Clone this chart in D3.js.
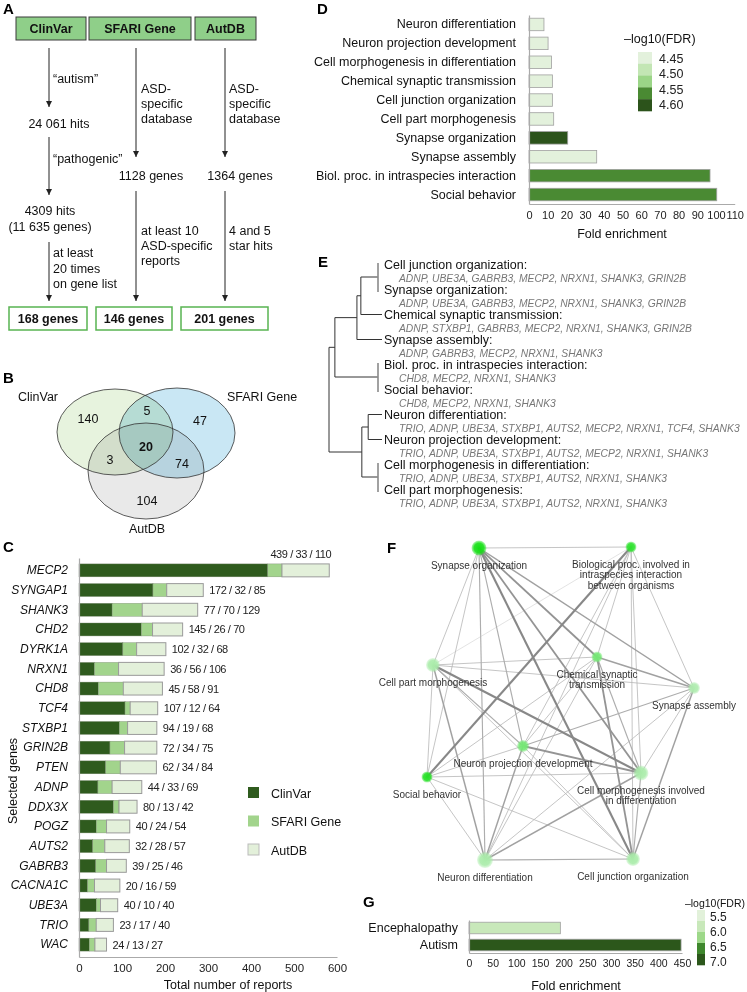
<!DOCTYPE html>
<html><head><meta charset="utf-8">
<script src="https://cdn.jsdelivr.net/npm/d3@7"></script>
<style>
body{margin:0;background:#fff;}
svg{font-family:"Liberation Sans",Arial,sans-serif;display:block;}
</style></head><body>
<svg id="fig" width="747" height="992"></svg>
<script>
// ================= DATA =================
// Panel A
const sourceNames = ["ClinVar", "SFARI Gene", "AutDB"];
const finalLabels = ["168 genes", "146 genes", "201 genes"];
// Panel B (regions: C, C∩S, S, C∩S∩A, C∩A, S∩A, A)
const vennLabels = ["ClinVar", "SFARI Gene", "AutDB"];
const vennValues = [140, 5, 47, 20, 3, 74, 104];
// Panel C
const genes = ["MECP2","SYNGAP1","SHANK3","CHD2","DYRK1A","NRXN1","CHD8","TCF4","STXBP1","GRIN2B","PTEN","ADNP","DDX3X","POGZ","AUTS2","GABRB3","CACNA1C","UBE3A","TRIO","WAC"];
const clinvarN = [439,172,77,145,102,36,45,107,94,72,62,44,80,40,32,39,20,40,23,24];
const sfariN   = [33,32,70,26,32,56,58,12,19,34,34,33,13,24,28,25,16,10,17,13];
const autdbN   = [110,85,129,70,68,106,91,64,68,75,84,69,42,54,57,46,59,40,40,27];
const cTicks = [0,100,200,300,400,500,600];
// Panel D
const goTerms = ["Neuron differentiation","Neuron projection development","Cell morphogenesis in differentiation","Chemical synaptic transmission","Cell junction organization","Cell part morphogenesis","Synapse organization","Synapse assembly","Biol. proc. in intraspecies interaction","Social behavior"];
const goFold = [8.0,10.2,12.0,12.5,12.5,13.2,20.7,36.2,96.8,100.4];
const goFDR  = [4.44,4.45,4.45,4.46,4.45,4.46,4.63,4.45,4.59,4.59];
const goTicks = [0,10,20,30,40,50,60,70,80,90,100,110];
const goLegend = ["4.45","4.50","4.55","4.60"];
// Panel E
const dendroTerms = ["Cell junction organization:","Synapse organization:","Chemical synaptic transmission:","Synapse assembly:","Biol. proc. in intraspecies interaction:","Social behavior:","Neuron differentiation:","Neuron projection development:","Cell morphogenesis in differentiation:","Cell part morphogenesis:"];
const dendroGenes = [
 "ADNP, UBE3A, GABRB3, MECP2, NRXN1, SHANK3, GRIN2B",
 "ADNP, UBE3A, GABRB3, MECP2, NRXN1, SHANK3, GRIN2B",
 "ADNP, STXBP1, GABRB3, MECP2, NRXN1, SHANK3, GRIN2B",
 "ADNP, GABRB3, MECP2, NRXN1, SHANK3",
 "CHD8, MECP2, NRXN1, SHANK3",
 "CHD8, MECP2, NRXN1, SHANK3",
 "TRIO, ADNP, UBE3A, STXBP1, AUTS2, MECP2, NRXN1, TCF4, SHANK3",
 "TRIO, ADNP, UBE3A, STXBP1, AUTS2, MECP2, NRXN1, SHANK3",
 "TRIO, ADNP, UBE3A, STXBP1, AUTS2, NRXN1, SHANK3",
 "TRIO, ADNP, UBE3A, STXBP1, AUTS2, NRXN1, SHANK3"];
const dendroTree = {h:1, children:[
  {h:0.88, children:[
    {h:0.43, children:[
      {h:0.35, children:[{h:0, children:[{leaf:0},{leaf:1}]}, {leaf:2}]},
      {leaf:3}]},
    {h:0, children:[{leaf:4},{leaf:5}]}]},
  {h:0.33, children:[
    {h:0.2, children:[{leaf:6},{leaf:7}]},
    {h:0, children:[{leaf:8},{leaf:9}]}]}
]};
// Panel F (network, layout units)
const netLabels = [["Synapse organization"],["Biological proc. involved in","intraspecies interaction","between organisms"],["Chemical synaptic","transmission"],["Cell part morphogenesis"],["Synapse assembly"],["Neuron projection development"],["Social behavior"],["Cell morphogenesis involved","in differentiation"],["Neuron differentiation"],["Cell junction organization"]];
const netX = [69,221,187,23,284,113,17,231,75,223];
const netY = [8,7,117,125,148,206,237,233,320,319];
const netSize = [7.5,5.5,5.5,7,6,6,5.5,7.5,8,7];
const netShade = [1,0.85,0.45,0.15,0.12,0.45,0.9,0.15,0.15,0.15];
const netEdges = [
 [0,1,1],[0,2,2.5],[0,3,1],[0,4,2],[0,5,1.5],[0,6,1],[0,7,2.5],[0,8,1.5],[0,9,3],
 [1,2,1],[1,3,0.5],[1,4,1],[1,5,1],[1,6,3],[1,7,1],[1,8,1],[1,9,1],
 [2,3,1],[2,4,2],[2,5,1],[2,6,1],[2,7,1.5],[2,8,1],[2,9,2.5],
 [3,4,1],[3,5,1.5],[3,6,1],[3,7,3],[3,8,2],[3,9,1],
 [4,5,1.5],[4,7,1],[4,8,1],[4,9,2],
 [5,6,1],[5,7,2.5],[5,8,2],[5,9,1],
 [6,7,1],[6,8,1],[6,9,1],
 [7,8,2],[7,9,1.5],[8,9,1.5]];
// Panel G
const disTerms = ["Encephalopathy","Autism"];
const disFold = [193, 448];
const disFDR = [5.9, 7.1];
const disTicks = [0,50,100,150,200,250,300,350,400,450];
const disLegend = ["5.5","6.0","6.5","7.0"];

// ================= DRAW =================
const FONT = '"Liberation Sans", Arial, sans-serif';
const svg = d3.select("#fig");
const defs = svg.append("defs");
function T(g, x, y, s, o = {}) {
  return g.append("text").attr("x", x).attr("y", y).text(s)
    .attr("font-size", o.fs || 12.5).attr("font-weight", o.fw || null)
    .attr("font-style", o.fi || null).attr("text-anchor", o.a || "start")
    .attr("fill", o.c || "#111");
}
function styleAxis(g, fs) {
  g.attr("font-family", FONT).attr("font-size", fs);
  g.select(".domain").attr("stroke", "#aaa").attr("stroke-width", 1.2);
  g.selectAll(".tick line").remove();
  g.selectAll(".tick text").attr("fill", "#222");
}

// Panel labels
[["A",3,14],["B",3,383],["C",3,552],["D",317,14],["E",318,267],["F",387,553],["G",363,907]]
  .forEach(([l,x,y]) => T(svg, x, y, l, {fs:15, fw:"bold", c:"#000"}));

// ---------- Panel A ----------
const gA = svg.append("g");
defs.append("marker").attr("id","arr").attr("viewBox","0 0 10 10").attr("refX",10).attr("refY",5)
  .attr("markerWidth",6).attr("markerHeight",6).attr("orient","auto")
  .append("path").attr("d","M0,0L10,5L0,10z").attr("fill","#222");
const hdrBox = [{x:16,w:70},{x:89,w:102},{x:195,w:61}];
sourceNames.forEach((s,i) => {
  gA.append("rect").attr("x",hdrBox[i].x).attr("y",17).attr("width",hdrBox[i].w).attr("height",23)
    .attr("fill","#8fcf89").attr("stroke","#3a3a3a").attr("stroke-width",1);
  T(gA, hdrBox[i].x + hdrBox[i].w/2, 33, s, {fw:"bold", a:"middle"});
});
function arrow(x, y1, y2) {
  gA.append("line").attr("x1",x).attr("x2",x).attr("y1",y1).attr("y2",y2)
    .attr("stroke","#222").attr("stroke-width",1).attr("marker-end","url(#arr)");
}
arrow(49,48,107); arrow(49,137,195); arrow(49,242,301);
arrow(136,48,157); arrow(136,191,301);
arrow(225,48,157); arrow(225,191,301);
T(gA,53,83,"“autism”");
T(gA,59,128,"24 061 hits",{a:"middle"});
T(gA,53,163,"“pathogenic”");
T(gA,50,215,"4309 hits",{a:"middle"});
T(gA,50,231,"(11 635 genes)",{a:"middle"});
["at least","20 times","on gene list"].forEach((s,i)=>T(gA,53,257+15.5*i,s));
["ASD-","specific","database"].forEach((s,i)=>{T(gA,141,93+15*i,s);T(gA,229,93+15*i,s);});
T(gA,151,180,"1128 genes",{a:"middle"});
T(gA,240,180,"1364 genes",{a:"middle"});
["at least 10","ASD-specific","reports"].forEach((s,i)=>T(gA,141,235+15*i,s));
["4 and 5","star hits"].forEach((s,i)=>T(gA,229,235+15*i,s));
const finBox = [{x:9,w:78},{x:96,w:76},{x:181,w:87}];
finalLabels.forEach((s,i)=>{
  gA.append("rect").attr("x",finBox[i].x).attr("y",307).attr("width",finBox[i].w).attr("height",23)
    .attr("fill","#fff").attr("stroke","#58b451").attr("stroke-width",1.5);
  T(gA, finBox[i].x+finBox[i].w/2, 323, s, {fw:"bold", a:"middle"});
});

// ---------- Panel B ----------
const gB = svg.append("g");
const ells = [{cx:115,cy:432,rx:58,ry:43,f:"#e7f3de"},{cx:177,cy:433,rx:58,ry:45,f:"#c9e7f4"},{cx:146,cy:471,rx:58,ry:48,f:"#e9e9e9"}];
ells.forEach(e=>gB.append("ellipse").attr("cx",e.cx).attr("cy",e.cy).attr("rx",e.rx).attr("ry",e.ry)
  .attr("fill",e.f).style("mix-blend-mode","multiply"));
ells.forEach(e=>gB.append("ellipse").attr("cx",e.cx).attr("cy",e.cy).attr("rx",e.rx).attr("ry",e.ry)
  .attr("fill","none").attr("stroke","#333").attr("stroke-width",0.8));
const vennPos = [[88,423],[147,415],[200,425],[146,451],[110,464],[182,468],[147,505]];
vennValues.forEach((v,i)=>T(gB, vennPos[i][0], vennPos[i][1], v, {a:"middle", fw: i===3?"bold":null}));
T(gB,58,401,vennLabels[0],{a:"end"});
T(gB,227,401,vennLabels[1]);
T(gB,147,533,vennLabels[2],{a:"middle"});

// ---------- Panel C ----------
const gC = svg.append("g");
const xC = d3.scaleLinear().domain([0,600]).range([79,337]);
const yC = d3.scaleBand().domain(genes).range([558,957]).paddingInner(0.343).paddingOuter(0.3);
const cKeys = ["ClinVar","SFARI","AutDB"];
const cColors = ["#2f5b1e","#a2d48c","#e3f0da"];
const cRows = genes.map((g,i)=>({gene:g, ClinVar:clinvarN[i], SFARI:sfariN[i], AutDB:autdbN[i]}));
const stacked = d3.stack().keys(cKeys)(cRows);
stacked.forEach((layer,k)=>{
  gC.append("g").selectAll("rect").data(layer).join("rect")
    .attr("x",d=>xC(d[0])).attr("width",d=>xC(d[1])-xC(d[0]))
    .attr("y",d=>yC(d.data.gene)).attr("height",yC.bandwidth())
    .attr("fill",cColors[k]).attr("stroke", k===2?"#9a9a9a":"#7a8a70").attr("stroke-width",k===2?1:0.4);
});
const axCx = gC.append("g").attr("transform","translate(0,957)")
  .call(d3.axisBottom(xC).tickValues(cTicks).tickSize(0).tickSizeOuter(0).tickPadding(7));
styleAxis(axCx, 11.5);
const axCy = gC.append("g").attr("transform","translate(79,0)")
  .call(d3.axisLeft(yC).tickSize(0).tickSizeOuter(0).tickPadding(11));
styleAxis(axCy, 12);
axCy.selectAll(".tick text").attr("font-style","italic").attr("fill","#111");
cRows.forEach((r,i)=>{
  const tot = r.ClinVar + r.SFARI + r.AutDB;
  const lbl = `${r.ClinVar} / ${r.SFARI} / ${r.AutDB}`;
  if (i === 0) {
    T(gC, xC(tot)+2, yC(r.gene)-6, lbl, {fs:11, a:"end", c:"#222"}).attr("letter-spacing",-0.4);
  } else {
    T(gC, xC(tot)+6, yC(r.gene)+yC.bandwidth()/2+4, lbl, {fs:11, c:"#222"}).attr("letter-spacing",-0.4);
  }
});
T(gC,228,989,"Total number of reports",{a:"middle"});
T(gC,0,0,"Selected genes",{a:"middle"}).attr("transform","translate(17,781) rotate(-90)");
sourceNames.forEach((s,i)=>{
  const yy = 787 + 28.5*i;
  gC.append("rect").attr("x",248).attr("y",yy).attr("width",11).attr("height",11)
    .attr("fill",cColors[i]).attr("stroke",i===2?"#bbb":"none");
  T(gC,271,yy+10.5,s);
});

// ---------- Panel D ----------
const gD = svg.append("g");
const dColors = ["#e3f1dc","#c3e6b4","#9bd587","#4a8a33","#2c531b"];
const xD = d3.scaleLinear().domain([0,110]).range([529,734.7]);
const yD = d3.scaleBand().domain(goTerms).range([15,204]).paddingInner(0.339).paddingOuter(0.17);
const colD = d3.scaleThreshold().domain([4.475,4.525,4.575,4.625]).range(dColors);
gD.selectAll("rect.bar").data(goTerms).join("rect").attr("class","bar")
  .attr("x",xD(0)).attr("y",d=>yD(d)).attr("height",yD.bandwidth())
  .attr("width",(d,i)=>xD(goFold[i])-xD(0))
  .attr("fill",(d,i)=>colD(goFDR[i])).attr("stroke","#a0a0a0").attr("stroke-width",0.8);
const axDx = gD.append("g").attr("transform","translate(0,204)")
  .call(d3.axisBottom(xD).tickValues(goTicks).tickSize(0).tickSizeOuter(0).tickPadding(7));
styleAxis(axDx, 11);
const axDy = gD.append("g").attr("transform","translate(529,0)")
  .call(d3.axisLeft(yD).tickSize(0).tickSizeOuter(0).tickPadding(13));
styleAxis(axDy, 12.5);
axDy.selectAll(".tick text").attr("fill","#111");
T(gD,622,238,"Fold enrichment",{a:"middle"});
T(gD,624,43,"–log10(FDR)");
const legDy = d3.scaleBand().domain(d3.range(dColors.length)).range([52,111]);
dColors.forEach((c,i)=>gD.append("rect").attr("x",638).attr("y",legDy(i)).attr("width",14)
  .attr("height",legDy.bandwidth()+0.3).attr("fill",c));
goLegend.forEach((s,i)=>T(gD,659,63+15.3*i,s,{c:"#222"}));

// ---------- Panel E ----------
const gE = svg.append("g");
const xE = d3.scaleLinear().domain([0,1]).range([378,329]);
const yE = d3.scaleLinear().domain([0,9]).range([264.5,489.5]);
const root = d3.hierarchy(dendroTree);
root.eachAfter(n=>{
  if (!n.children) { n.py = yE(n.data.leaf); n.px = 382; }
  else { n.py = d3.mean(n.children, c=>c.py); n.px = xE(n.data.h); }
});
root.each(n=>{
  if (!n.children) return;
  const ys = n.children.map(c=>c.py);
  if (n.data.h === 0) {
    gE.append("line").attr("x1",n.px).attr("x2",n.px).attr("y1",d3.min(ys)-1.5).attr("y2",d3.max(ys)+2.5)
      .attr("stroke","#8a8a8a").attr("stroke-width",1.6);
  } else {
    gE.append("line").attr("x1",n.px).attr("x2",n.px).attr("y1",d3.min(ys)).attr("y2",d3.max(ys))
      .attr("stroke","#333").attr("stroke-width",1);
    n.children.forEach(c=>gE.append("line").attr("x1",n.px).attr("x2",c.px).attr("y1",c.py).attr("y2",c.py)
      .attr("stroke","#333").attr("stroke-width",1));
  }
});
dendroTerms.forEach((t,i)=>{
  T(gE,384,yE(i)+4.5,t,{fs:12.5});
  T(gE,399,yE(i)+17.5,dendroGenes[i],{fs:10.3,fi:"italic",c:"#777"});
});

// ---------- Panel F ----------
const gF = svg.append("g");
const xF = d3.scaleLinear().domain([0,300]).range([410,710]);
const yF = d3.scaleLinear().domain([0,330]).range([540,870]);
const nodeCol = d3.interpolateRgb("#c4eec4","#14e014");
const edgeCol = d3.interpolateRgb("#d2d2d2","#888888");
const sortedEdges = netEdges.slice().sort((a,b)=>a[2]-b[2]);
gF.append("g").selectAll("line").data(sortedEdges).join("line")
  .attr("x1",d=>xF(netX[d[0]])).attr("y1",d=>yF(netY[d[0]]))
  .attr("x2",d=>xF(netX[d[1]])).attr("y2",d=>yF(netY[d[1]]))
  .attr("stroke",d=>edgeCol(Math.min(1,d[2]/3)))
  .attr("stroke-width",d=>0.5+(d[2]-0.5)*0.65);
netLabels.forEach((lines,i)=>{
  const c = nodeCol(netShade[i]);
  const gr = defs.append("radialGradient").attr("id","ng"+i);
  gr.append("stop").attr("offset","0%").attr("stop-color",c).attr("stop-opacity",1);
  gr.append("stop").attr("offset","65%").attr("stop-color",c).attr("stop-opacity",0.9);
  gr.append("stop").attr("offset","100%").attr("stop-color",c).attr("stop-opacity",0.3);
  gF.append("circle").attr("cx",xF(netX[i])).attr("cy",yF(netY[i])).attr("r",netSize[i])
    .attr("fill",`url(#ng${i})`);
});
netLabels.forEach((lines,i)=>{
  lines.forEach((s,j)=>T(gF,xF(netX[i]),yF(netY[i])+20.5+10.5*j,s,{fs:10,a:"middle",c:"#333"}));
});

// ---------- Panel G ----------
const gG = svg.append("g");
const gColors = ["#e2f1da","#c8e8ba","#9dd889","#3f872d","#2c571b"];
const xG = d3.scaleLinear().domain([0,450]).range([469,682]);
const yG = d3.scaleBand().domain(disTerms).range([920,953]).paddingInner(0.32).paddingOuter(0.13);
const colG = d3.scaleThreshold().domain([5.75,6.25,6.75,7.0]).range(gColors);
gG.selectAll("rect.bar").data(disTerms).join("rect").attr("class","bar")
  .attr("x",xG(0)).attr("y",d=>yG(d)).attr("height",yG.bandwidth())
  .attr("width",(d,i)=>xG(disFold[i])-xG(0))
  .attr("fill",(d,i)=>colG(disFDR[i])).attr("stroke","#a0a0a0").attr("stroke-width",0.8);
const axGx = gG.append("g").attr("transform","translate(0,953)")
  .call(d3.axisBottom(xG).tickValues(disTicks).tickSize(0).tickSizeOuter(0).tickPadding(6.5));
styleAxis(axGx, 10.5);
const axGy = gG.append("g").attr("transform","translate(469,0)")
  .call(d3.axisLeft(yG).tickSize(0).tickSizeOuter(0).tickPadding(11));
styleAxis(axGy, 12.5);
axGy.selectAll(".tick text").attr("fill","#111");
T(gG,576,990,"Fold enrichment",{a:"middle"});
T(gG,745,907,"–log10(FDR)",{fs:10.5,a:"end"});
const legGy = d3.scaleBand().domain(d3.range(gColors.length)).range([910,965]);
gColors.forEach((c,i)=>gG.append("rect").attr("x",697).attr("y",legGy(i)).attr("width",8)
  .attr("height",legGy.bandwidth()+0.3).attr("fill",c));
disLegend.forEach((s,i)=>T(gG,710,921+15*i,s,{fs:12,c:"#222"}));
</script>
</body></html>
